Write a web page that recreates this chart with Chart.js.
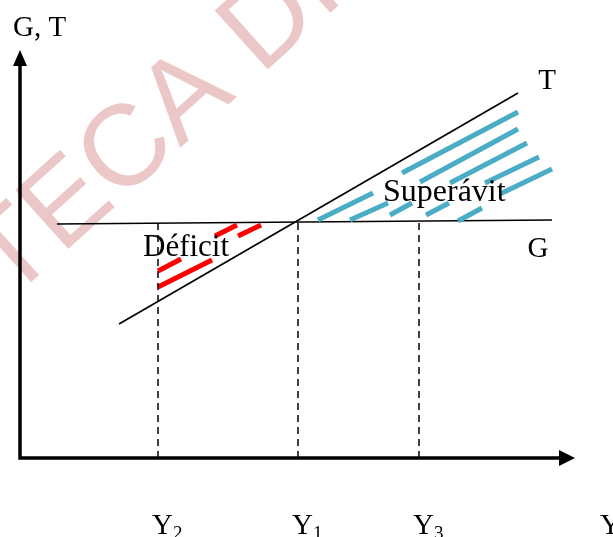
<!DOCTYPE html>
<html>
<head>
<meta charset="utf-8">
<script src="https://cdn.jsdelivr.net/npm/chart.js@4.4.1/dist/chart.umd.min.js"></script>
<style>
  html, body { margin: 0; padding: 0; background: #fff; }
</style>
</head>
<body>
<canvas id="chart" width="613" height="537"></canvas>
<script>
// Curvas G (gasto) y T (impuestos), unidades del grafico
const gLine = [{ x: 37, y: 234 }, { x: 532, y: 238 }];
const tLine = [{ x: 99, y: 134 }, { x: 498, y: 365 }];

// Niveles de renta marcados con lineas punteadas
const incomeX = [138, 278, 399];
const incomeTop = [235, 236, 237];
const incomeSub = ['2', '1', '3'];

// Rayado del deficit (rojo) y del superavit (azul): [x1, y1, x2, y2]
const deficitHatch = [
    [138, 187, 161, 199],
    [138, 171, 192, 198],
    [195, 222, 217, 233],
    [218, 222, 241, 233]
];
const surplusHatch = [
    [298, 238, 353, 265],
    [382, 285, 498, 346],
    [330, 238, 368, 255],
    [400, 276, 498, 329],
    [370, 243, 392, 255],
    [430, 275, 507, 315],
    [406, 243, 429, 255],
    [465, 275, 519, 301],
    [438, 237, 462, 250],
    [480, 264, 532, 289]
];

// Textos: [texto, x, y, alineacion, tamano]
const textLabels = [
    ['T', 527, 369, 'center', 29],
    ['G', 518, 201, 'center', 29],
    ['Superávit', 363, 257, 'left', 32],
    ['Déficit', 123, 202, 'left', 31],
    ['G, T', -7, 422, 'left', 29]
];
const xAxisTitle = { text: 'Y', x: 586 };
const labelY = -76;

const SERIF = '"Liberation Serif", "Times New Roman", serif';

function segToSet(seg, color) {
    return {
        data: [{ x: seg[0], y: seg[1] }, { x: seg[2], y: seg[3] }],
        borderColor: color,
        borderWidth: 5,
        pointRadius: 0
    };
}

const datasets = [];
incomeX.forEach((x, i) => {
    datasets.push({
        data: [{ x: x, y: 0 }, { x: x, y: incomeTop[i] }],
        borderColor: '#000',
        borderWidth: 1.5,
        borderDash: [7, 5],
        pointRadius: 0
    });
});
deficitHatch.forEach(s => datasets.push(segToSet(s, '#FF0000')));
surplusHatch.forEach(s => datasets.push(segToSet(s, '#4BACC6')));
datasets.push({ data: gLine, borderColor: '#000', borderWidth: 1.6, pointRadius: 0 });
datasets.push({ data: tLine, borderColor: '#000', borderWidth: 1.6, pointRadius: 0 });

// Marca de agua (debajo de todo)
const watermark = {
    id: 'watermark',
    beforeDatasetsDraw(chart) {
        const ctx = chart.ctx;
        ctx.save();
        ctx.translate(9, 302);
        ctx.rotate(-42 * Math.PI / 180);
        ctx.font = '115px "Liberation Sans", Arial, sans-serif';
        ctx.fillStyle = '#EBC7C7';
        ctx.textBaseline = 'alphabetic';
        ctx.textAlign = 'left';
        ctx.fillText('TECA DIGITAL', 0, 0);
        ctx.textAlign = 'right';
        ctx.fillText('BIBLIO', 0, 0);
        ctx.restore();
    }
};

// Ejes con flechas y textos
const axesAndText = {
    id: 'axesAndText',
    afterDatasetsDraw(chart) {
        const { ctx, chartArea: { left, right, top, bottom }, scales: { x, y } } = chart;
        ctx.save();
        ctx.strokeStyle = '#000';
        ctx.fillStyle = '#000';
        ctx.lineWidth = 3.5;
        ctx.lineJoin = 'miter';
        ctx.beginPath();
        ctx.moveTo(left, top + 12);
        ctx.lineTo(left, bottom);
        ctx.lineTo(right - 12, bottom);
        ctx.stroke();
        // flecha vertical
        ctx.beginPath();
        ctx.moveTo(left, top);
        ctx.lineTo(left - 7, top + 16);
        ctx.lineTo(left + 7, top + 16);
        ctx.closePath();
        ctx.fill();
        // flecha horizontal
        ctx.beginPath();
        ctx.moveTo(right, bottom);
        ctx.lineTo(right - 16, bottom - 8);
        ctx.lineTo(right - 16, bottom + 8);
        ctx.closePath();
        ctx.fill();

        ctx.textBaseline = 'alphabetic';
        textLabels.forEach(t => {
            ctx.font = t[4] + 'px ' + SERIF;
            ctx.textAlign = t[3];
            ctx.fillText(t[0], x.getPixelForValue(t[1]), y.getPixelForValue(t[2]));
        });

        // Y con subindice
        const by = y.getPixelForValue(labelY);
        ctx.textAlign = 'left';
        incomeX.forEach((v, i) => {
            const px = x.getPixelForValue(v) - 6;
            ctx.font = '29px ' + SERIF;
            ctx.fillText('Y', px, by);
            const w = ctx.measureText('Y').width;
            ctx.font = '19px ' + SERIF;
            ctx.fillText(incomeSub[i], px + w, by + 5);
        });
        ctx.font = '29px ' + SERIF;
        ctx.fillText(xAxisTitle.text, x.getPixelForValue(xAxisTitle.x) - 6, by);
        ctx.restore();
    }
};

const config = {
    type: 'line',
    data: { datasets },
    options: {
        responsive: false,
        animation: false,
        devicePixelRatio: 1,
        layout: {
            padding: { left: 20, right: 38, top: 50, bottom: 79 }
        },
        scales: {
            x: { type: 'linear', min: 0, max: 555, display: false },
            y: { type: 'linear', min: 0, max: 408, display: false }
        },
        plugins: {
            legend: { display: false },
            tooltip: { enabled: false }
        },
        elements: { line: { tension: 0, borderCapStyle: 'butt' } }
    },
    plugins: [watermark, axesAndText]
};

var myChart = new Chart(document.getElementById('chart'), config);
</script>
</body>
</html>
